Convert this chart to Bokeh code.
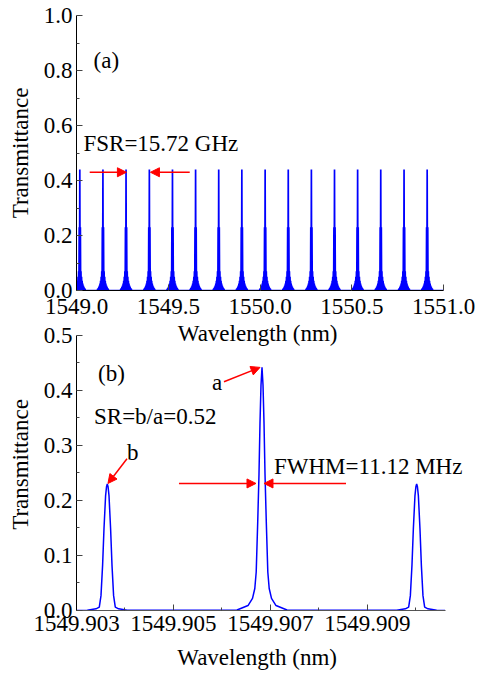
import numpy as np
from bokeh.plotting import figure
from bokeh.layouts import column
from bokeh.models import Range1d, FixedTicker, PrintfTickFormatter, Label, Arrow, NormalHead
from bokeh.embed import file_html
from bokeh.resources import INLINE

# ---------------- data ----------------
# panel (a): comb-line centres (nm)
comb_centers = [1549.018, 1549.144, 1549.270, 1549.397, 1549.523, 1549.649,
                1549.775, 1549.901, 1550.028, 1550.154, 1550.280, 1550.406,
                1550.532, 1550.658, 1550.785, 1550.911]
# Vernier sub-peak spacing (nm) and sub-peak heights by order 0, 1, 2, ...
sub_spacing = 0.00319
sub_heights = [0.44, 0.23, 0.07, 0.05, 0.035, 0.025, 0.018, 0.013, 0.009, 0.006]

# panel (b): the three resonances (nm)
peak_centers = [1549.903635, 1549.906825, 1549.910014]
peak_kind = ["side", "main", "side"]
# half-profiles: offset from centre (nm) -> transmittance
main_offsets = [0, 2.06e-5, 4.12e-5, 6.19e-5, 8.87e-5, 1.196e-4, 1.485e-4, 1.959e-4, 2.887e-4, 5.155e-4]
main_values = [0.442, 0.41, 0.342, 0.248, 0.16, 0.07, 0.04, 0.022, 0.009, 0.001]
side_offsets = [0, 1.6e-5, 3.5e-5, 6.8e-5, 9.7e-5, 1.30e-4, 1.65e-4, 2.33e-4, 4.12e-4]
side_values = [0.230, 0.225, 0.209, 0.149, 0.082, 0.027, 0.006, 0.003, 0.0005]

xticks_a = [1549.0, 1549.5, 1550.0, 1550.5, 1551.0]
yticks_a = [0.0, 0.2, 0.4, 0.6, 0.8, 1.0]
xticks_b = [1549.903, 1549.905, 1549.907, 1549.909]
xminor_b = [1549.904, 1549.906, 1549.908, 1549.910]
yticks_b = [0.0, 0.1, 0.2, 0.3, 0.4, 0.5]

FONT = "Liberation Serif, Times New Roman, serif"
BLUE = "#0000FF"
RED = "#FF0000"

# ---------------- build curves ----------------
xa, ya = [1549.0], [0.0]
N = len(sub_heights) - 1
for c in comb_centers:
    xa.append(c - (N + 0.5) * sub_spacing); ya.append(0.0)
    for k in range(-N, N + 1):
        xa.append(c + k * sub_spacing); ya.append(sub_heights[abs(k)])
        xa.append(c + (k + 0.5) * sub_spacing); ya.append(0.0)
xa.append(1551.0); ya.append(0.0)

profiles = {"main": (main_offsets, main_values), "side": (side_offsets, side_values)}
xb, yb = [1549.903], [0.0]
for c, kind in zip(peak_centers, peak_kind):
    offs, vals = profiles[kind]
    for o, v in zip(offs[::-1], vals[::-1]):
        xb.append(c - o); yb.append(v)
    for o, v in zip(offs[1:], vals[1:]):
        xb.append(c + o); yb.append(v)
xb.append(1549.9106); yb.append(0.0)


def style(p, xt, xminor, yt, yminor, xfmt, yfmt, xcolor):
    p.outline_line_color = None
    p.grid.visible = False
    p.xaxis.ticker = FixedTicker(ticks=xt, minor_ticks=xminor)
    p.yaxis.ticker = FixedTicker(ticks=yt, minor_ticks=yminor)
    p.xaxis.formatter = PrintfTickFormatter(format=xfmt)
    p.yaxis.formatter = PrintfTickFormatter(format=yfmt)
    for ax in (p.xaxis, p.yaxis):
        ax.major_tick_in = 6
        ax.major_tick_out = 0
        ax.minor_tick_in = 3
        ax.minor_tick_out = 0
        ax.major_label_text_font = FONT
        ax.major_label_text_font_size = "23px"
        ax.major_label_text_color = "black"
        ax.axis_label_text_font = FONT
        ax.axis_label_text_font_size = "23px"
        ax.axis_label_text_font_style = "normal"
        ax.axis_label_text_color = "black"
        ax.axis_line_color = "black"
        ax.major_tick_line_color = "#444444"
        ax.minor_tick_line_color = "#444444"
    p.xaxis.axis_line_color = xcolor
    p.yaxis.major_label_standoff = 4
    p.yaxis.axis_label_standoff = 8


def lab(p, x, y, text, align="left"):
    p.add_layout(Label(x=x, y=y, text=text, text_font=FONT, text_font_size="23px",
                       text_color="black", text_align=align, text_baseline="middle"))


def arrow(p, x0, y0, x1, y1):
    p.add_layout(Arrow(end=NormalHead(size=9, fill_color=RED, line_color=RED, line_width=1),
                       x_start=x0, y_start=y0, x_end=x1, y_end=y1,
                       line_color=RED, line_width=1.5))


# ---------------- panel (a) ----------------
# frame runs to the right edge; the axis itself stops at 1551.0
p1 = figure(width=478, height=318, x_range=Range1d(1549.0, 1551.1907), y_range=Range1d(0, 1.0),
            output_backend="svg", toolbar_location=None,
            min_border_left=76, min_border_right=0, min_border_top=15, min_border_bottom=28)
p1.line(xa, ya, color=BLUE, line_width=1.7)
style(p1, xticks_a, [], yticks_a, [0.1, 0.3, 0.5, 0.7, 0.9], "%.1f", "%.1f", "black")
p1.xaxis.major_label_standoff = 8
p1.xaxis.bounds = (1549.0, 1551.0)
p1.yaxis.axis_label = "Transmittance"
lab(p1, 1549.093, 0.838, "(a)")
lab(p1, 1549.038, 0.536, "FSR=15.72 GHz")
arrow(p1, 1549.072, 0.43, 1549.272, 0.43)
arrow(p1, 1549.617, 0.43, 1549.403, 0.43)

# ---------------- panel (b) ----------------
# frame extended above / right of the drawn axes so that texts are not clipped
p2 = figure(width=478, height=324,
            x_range=Range1d(1549.903, 1549.911289), y_range=Range1d(0, 0.5309),
            output_backend="svg", toolbar_location=None,
            min_border_left=76, min_border_right=0, min_border_top=0, min_border_bottom=32)
p2.line(xb, yb, color=BLUE, line_width=1.5)
style(p2, xticks_b, xminor_b, yticks_b, [0.05, 0.15, 0.25, 0.35, 0.45], "%.3f", "%.1f", "#555555")
p2.xaxis.major_label_standoff = 5
p2.xaxis.bounds = (1549.903, 1549.9106)
p2.yaxis.bounds = (0, 0.5)
p2.yaxis.axis_label = "Transmittance"
# x-axis title of panel (a), sitting just above panel (b)
lab(p2, 1549.906794, 0.5036, "Wavelength  (nm)", align="center")
lab(p2, 1549.903443, 0.4318, "(b)")
lab(p2, 1549.903361, 0.3536, "SR=b/a=0.52")
lab(p2, 1549.905794, 0.4145, "a")
lab(p2, 1549.904041, 0.2864, "b")
lab(p2, 1549.907072, 0.2627, "FWHM=11.12 MHz")
arrow(p2, 1549.906041, 0.416, 1549.906784, 0.442)
arrow(p2, 1549.904041, 0.276, 1549.903649, 0.231)
arrow(p2, 1549.905113, 0.231, 1549.906701, 0.231)
arrow(p2, 1549.908557, 0.231, 1549.906866, 0.231)

# strip holding the x-axis title of panel (b)
p3 = figure(width=478, height=31, x_range=Range1d(76, 478), y_range=Range1d(0, 31),
            output_backend="svg", toolbar_location=None,
            min_border_left=76, min_border_right=0, min_border_top=0, min_border_bottom=0,
            x_axis_location=None, y_axis_location=None)
p3.outline_line_color = None
p3.grid.visible = False
lab(p3, 259.5, 16.5, "Wavelength  (nm)", align="center")

layout = column(p1, p2, p3, spacing=0)
open("out.html", "w").write(file_html(layout, INLINE))
